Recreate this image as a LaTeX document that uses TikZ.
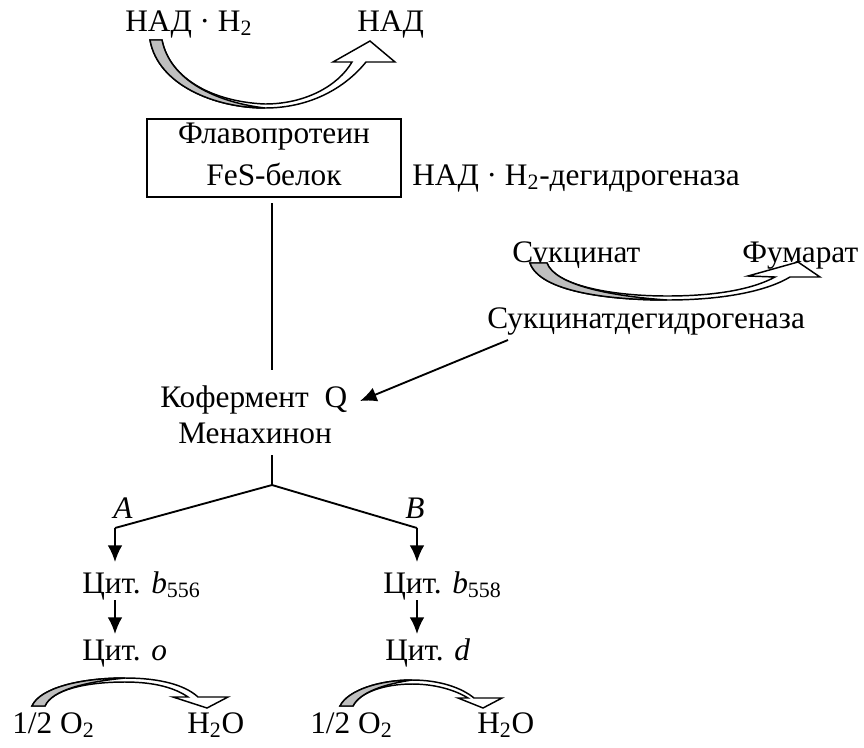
\documentclass[tikz,border=0pt]{standalone}
\usepackage{fontspec}
\setmainfont{Liberation Serif}
\usetikzlibrary{arrows.meta}
\tikzset{
  lbl/.style={anchor=base west, inner sep=0pt, font=\fontsize{23.5}{28}\selectfont},
  ctr/.style={anchor=base, inner sep=0pt, font=\fontsize{23.5}{28}\selectfont},
  conn/.style={line width=1.4pt},
  arr/.style={line width=1.4pt, -{Latex[length=12.5pt,width=11pt]}},
  band/.style={draw=black, line width=1.1pt, fill=white, line join=miter},
  shade/.style={draw=black, line width=1.1pt, fill=black!25},
  boxst/.style={draw=black, line width=1.4pt, minimum width=190.5pt, minimum height=58.5pt, inner sep=0pt}
}
\begin{document}
\begin{tikzpicture}[x=0.75pt,y=-0.75pt]
\useasboundingbox (0,0) rectangle (864,747);

% texts
\node[lbl] (nadh) at (125,31) {НАД · H\textsubscript{2}};
\node[lbl] (nad) at (357,31) {НАД};
\node[boxst] (box) at (274,158) {};
\node[ctr] (flav) at (274,143) {Флавопротеин};
\node[ctr] (fes) at (274,185) {FeS-белок};
\node[lbl] (dehydro) at (412,185) {НАД · H\textsubscript{2}-дегидрогеназа};
\node[lbl] (suc) at (512,262) {Сукцинат};
\node[lbl] (fum) at (742,262) {Фумарат};
\node[lbl] (sdh) at (487,328) {Сукцинатдегидрогеназа};
\node[lbl] (kof) at (160,407) {Кофермент\ \ Q};
\node[lbl] (men) at (178,443) {Менахинон};
\node[lbl] (la) at (113,518) {\textit{A}};
\node[lbl] (lb) at (405,518) {\textit{B}};
\node[lbl] (cb6) at (82,593) {Цит. \textit{b}\textsubscript{556}};
\node[lbl] (cb8) at (383,593) {Цит. \textit{b}\textsubscript{558}};
\node[lbl] (co) at (82,660) {Цит. \textit{o}};
\node[lbl] (cd) at (385,660) {Цит. \textit{d}};
\node[lbl] (o2a) at (12,733) {1/2 O\textsubscript{2}};
\node[lbl] (h2oa) at (187,733) {H\textsubscript{2}O};
\node[lbl] (o2b) at (310,733) {1/2 O\textsubscript{2}};
\node[lbl] (h2ob) at (477,733) {H\textsubscript{2}O};

% connector points
\coordinate (v1) at (272,203);
\coordinate (v2) at (272,370);
\coordinate (m1) at (272,455);
\coordinate (fork) at (272,485);
\coordinate (lc) at (115,528);
\coordinate (rc) at (417,528);
\coordinate (lt) at (115,562);
\coordinate (rt) at (417,562);
\coordinate (l2s) at (115,600);
\coordinate (l2t) at (115,634);
\coordinate (r2s) at (417,600);
\coordinate (r2t) at (417,634);
\coordinate (ss) at (508,340);
\coordinate (st) at (360,401);

\draw[conn] (v1) -- (v2);
\draw[conn] (m1) -- (fork);
\draw[conn] (fork) -- (lc);
\draw[conn] (fork) -- (rc);
\draw[arr] (lc) -- (lt);
\draw[arr] (rc) -- (rt);
\draw[arr] (l2s) -- (l2t);
\draw[arr] (r2s) -- (r2t);
\draw[arr] (ss) -- (st);

% top curved block arrow
\draw[band] (150,40) .. controls (158,85) and (215,108) .. (265,108)
  .. controls (310,108) and (345,88) .. (366,62) -- (395,62) -- (370,41) -- (333,62) -- (352,62)
  .. controls (338,86) and (305,104) .. (265,104)
  .. controls (215,102) and (170,80) .. (162,40) -- cycle;
\draw[shade] (150,40) .. controls (158,85) and (215,108) .. (265,108)
  .. controls (215,102) and (170,80) .. (162,40) -- cycle;

% succinate curved block arrow
\draw[band] (530,263) .. controls (540,292) and (610,300) .. (667,300)
  .. controls (720,300) and (765,292) .. (790,277) -- (820,277) -- (798,262) -- (748,276) -- (775,277)
  .. controls (755,288) and (720,296) .. (667,296)
  .. controls (610,296) and (555,285) .. (547,263) -- cycle;
\draw[shade] (530,263) .. controls (540,292) and (610,300) .. (667,300)
  .. controls (610,296) and (555,285) .. (547,263) -- cycle;

% bottom-left curved block arrow
\draw[band] (32,706) .. controls (40,688) and (80,678) .. (125,678)
  .. controls (160,678) and (185,685) .. (198,697) -- (228,697) -- (207,708) -- (173,697) -- (188,697)
  .. controls (175,688) and (155,682) .. (125,682)
  .. controls (85,682) and (52,690) .. (45,706) -- cycle;
\draw[shade] (32,706) .. controls (40,688) and (80,678) .. (125,678)
  .. controls (85,682) and (52,690) .. (45,706) -- cycle;

% bottom-right curved block arrow
\draw[band] (340,706) .. controls (348,690) and (380,680) .. (412,680)
  .. controls (440,680) and (462,688) .. (474,698) -- (502,698) -- (483,708) -- (458,698) -- (468,698)
  .. controls (455,690) and (435,684) .. (412,684)
  .. controls (385,684) and (360,692) .. (353,706) -- cycle;
\draw[shade] (340,706) .. controls (348,690) and (380,680) .. (412,680)
  .. controls (385,684) and (360,692) .. (353,706) -- cycle;
\end{tikzpicture}
\end{document}
